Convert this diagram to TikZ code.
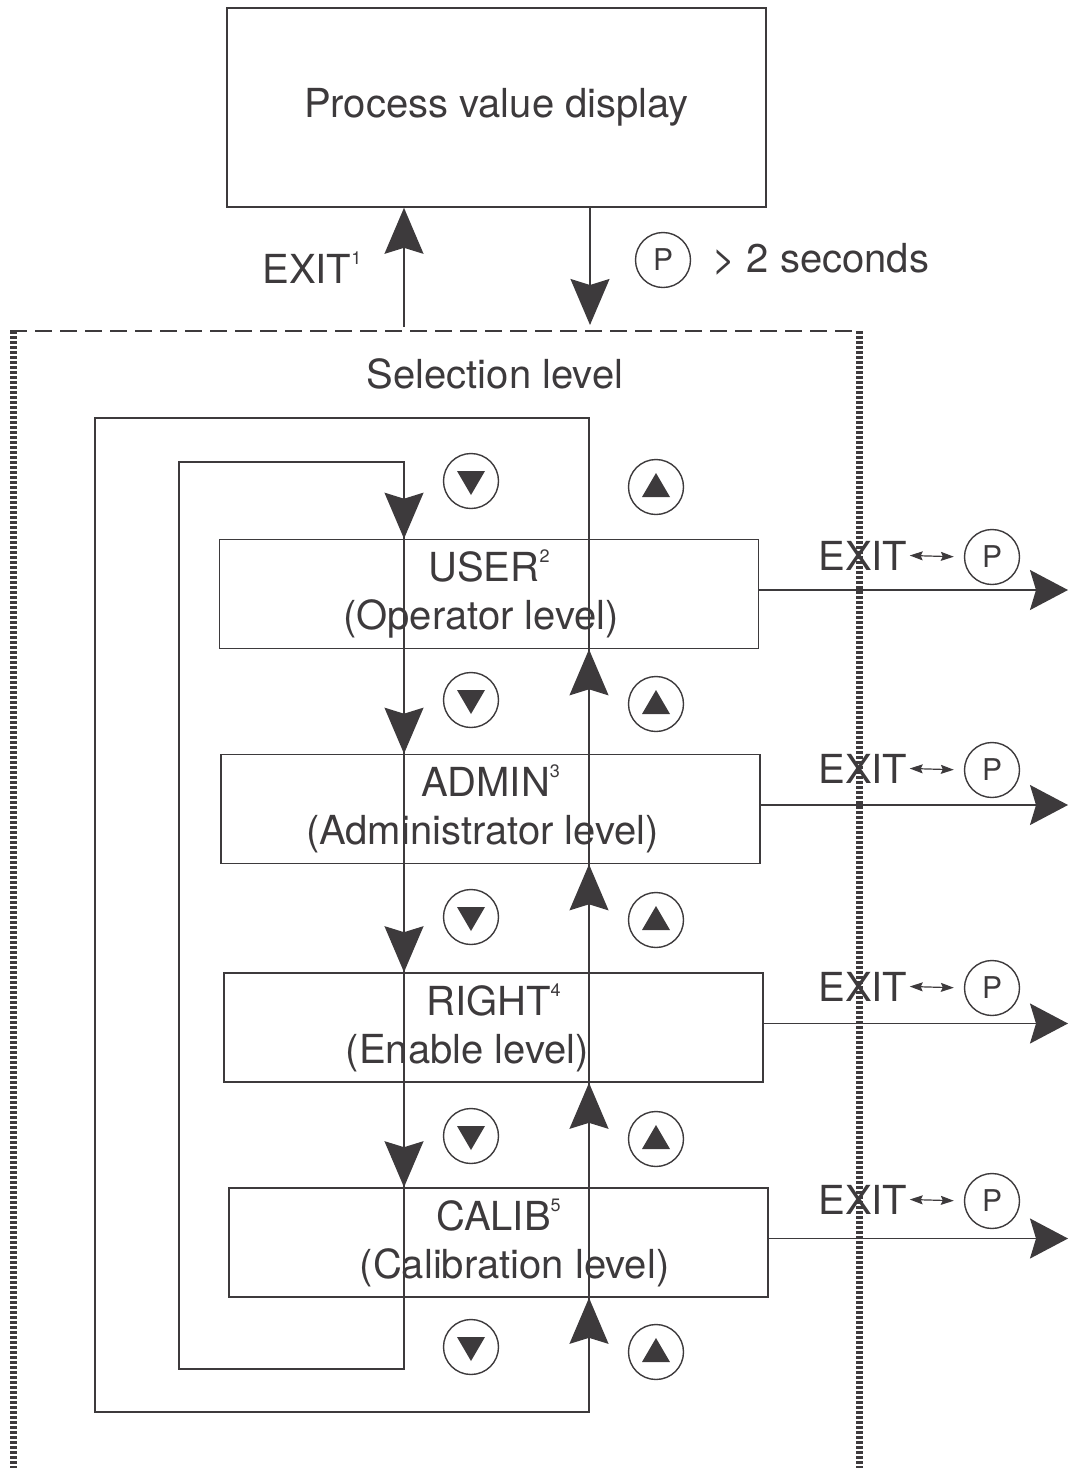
\documentclass[tikz,border=0pt]{standalone}
\usepackage{fontspec}
\setmainfont{TeX Gyre Heros}
\usetikzlibrary{arrows.meta}
\definecolor{ink}{HTML}{3D3A3C}
\newcommand{\labelfont}{\fontsize{20}{24}\selectfont}
\newcommand{\fnmark}[1]{\raisebox{9.5pt}{\fontsize{9}{9}\selectfont #1}}
\newcommand{\nudge}[2]{\hspace*{#1}#2\hspace*{-#1}}
\tikzset{
	every level/.style={
		rectangle,
		draw=ink,
		text=ink,
		line width=0.8pt,
		minimum width=269.5pt,
		minimum height=54.5pt,
		align=center,
		font=\labelfont
	},
	key button/.style={
		circle,
		draw=ink,
		text=ink,
		line width=0.7pt,
		minimum size=27.5pt,
		inner sep=0pt,
		font=\fontsize{15}{15}\selectfont
	},
	label text/.style={text=ink, inner sep=0pt, font=\labelfont},
	flow/.style={draw=ink, line width=0.8pt},
	frame top/.style={draw=ink, line width=1pt, dash pattern=on 8.5pt off 4pt},
	frame side/.style={draw=ink, line width=3.5pt, dash pattern=on 1.7pt off 0.8pt},
	bigtip/.tip={Stealth[length=23pt, width=19.5pt, inset=3pt]},
	outtip/.tip={Stealth[length=19pt, width=20pt, inset=3pt]},
	smalltip/.tip={Stealth[length=6.5pt, width=4.5pt, inset=1pt]},
}

\begin{document}
\begin{tikzpicture}[x=0.5pt, y=-0.5pt]

\useasboundingbox (0,0) rectangle (1069,1468);

\node [every level, minimum height=99.5pt] (display) at (496.5,107.5) {Process value display};

\coordinate (frame-tl) at (13.5,331);
\coordinate (frame-tr) at (859,331);
\coordinate (frame-bl) at (13.5,1468);
\coordinate (frame-br) at (859,1468);
\draw [frame top] (10,331) -- (frame-tr);
\draw [frame side] (frame-tl) -- (frame-bl);
\draw [frame side] (frame-tr) -- (frame-br);

\node [label text] (selection) at (495,374) {Selection level};

\coordinate (exit-foot) at (404,327);
\coordinate (entry-tip) at (590,325);
\draw [flow, -bigtip] (exit-foot) -- (exit-foot |- display.south);
\draw [flow, -bigtip] (display.south -| entry-tip) -- (entry-tip);
\node [label text, anchor=base west] (exit-main) at (262,283) {EXIT\fnmark{1}};
\node [key button] (pkey-main) at (663,260) {P};
\node [label text, anchor=base west] (hold) at (712,272) {> 2 seconds};

\foreach \m/\l/\x/\y in {user/{USER\fnmark{2}\\\nudge{-4pt}{(Operator level)}}/489/594,
		admin/{ADMIN\fnmark{3}\\\nudge{-4pt}{(Administrator level)}}/490.5/809,
		right/{RIGHT\fnmark{4}\\\nudge{-13pt}{(Enable level)}}/493.5/1027.5,
		calib/{CALIB\fnmark{5}\\\nudge{8pt}{(Calibration level)}}/498.5/1242.5}
	\node [every level] (level-\m) at (\x,\y) {\l};

\coordinate (in-tl) at (179,462);
\coordinate (in-tr) at (404,462);
\coordinate (in-br) at (404,1369);
\coordinate (in-bl) at (179,1369);
\coordinate (out-tl) at (95,418);
\coordinate (out-tr) at (589,418);
\coordinate (out-br) at (589,1412);
\coordinate (out-bl) at (95,1412);
\coordinate (page-right) at (1068,0);

\draw [flow] (in-tr) -- (in-tl) -- (in-bl) -- (in-br) -- cycle;
\draw [flow] (out-tr) -- (out-tl) -- (out-bl) -- (out-br) -- cycle;

\draw [flow, -bigtip] (in-tr) -- (in-tr |- level-user.north);
\foreach \a/\b in {user/admin, admin/right, right/calib}
	\draw [flow, -bigtip] (level-\a.south -| in-tr) -- (level-\b.north -| in-tr);

\draw [flow, -bigtip] (out-br) -- (out-br |- level-calib.south);
\foreach \a/\b in {calib/right, right/admin, admin/user}
	\draw [flow, -bigtip] (level-\a.north -| out-tr) -- (level-\b.south -| out-tr);

\foreach \y [count=\i] in {481,700,917,1136,1347} {
	\node [key button] (down-\i) at (471,\y) {};
	\fill [ink] (down-\i.center) ++(-7pt,5pt) -- ++(14pt,0pt) -- ++(-7pt,-12pt) -- cycle;
}

\foreach \y [count=\i] in {487,704,920,1139,1352} {
	\node [key button] (up-\i) at (656,\y) {};
	\fill [ink] (up-\i.center) ++(-7pt,-5pt) -- ++(14pt,0pt) -- ++(-7pt,12pt) -- cycle;
}

\foreach \m/\y in {user/557, admin/770, right/988, calib/1201} {
	\draw [flow, -outtip] ([yshift=2pt]level-\m.east) -- ([yshift=2pt]level-\m.east -| page-right);
	\node [label text, anchor=base west] (exit-\m) at (818,\y+13) {EXIT};
	\node [key button] (pkey-\m) at (992,\y) {P};
	\draw [ink, line width=0.6pt, smalltip-smalltip, shorten <=1pt, shorten >=5pt] (exit-\m.east) -- (pkey-\m.west);
}

\end{tikzpicture}
\end{document}
